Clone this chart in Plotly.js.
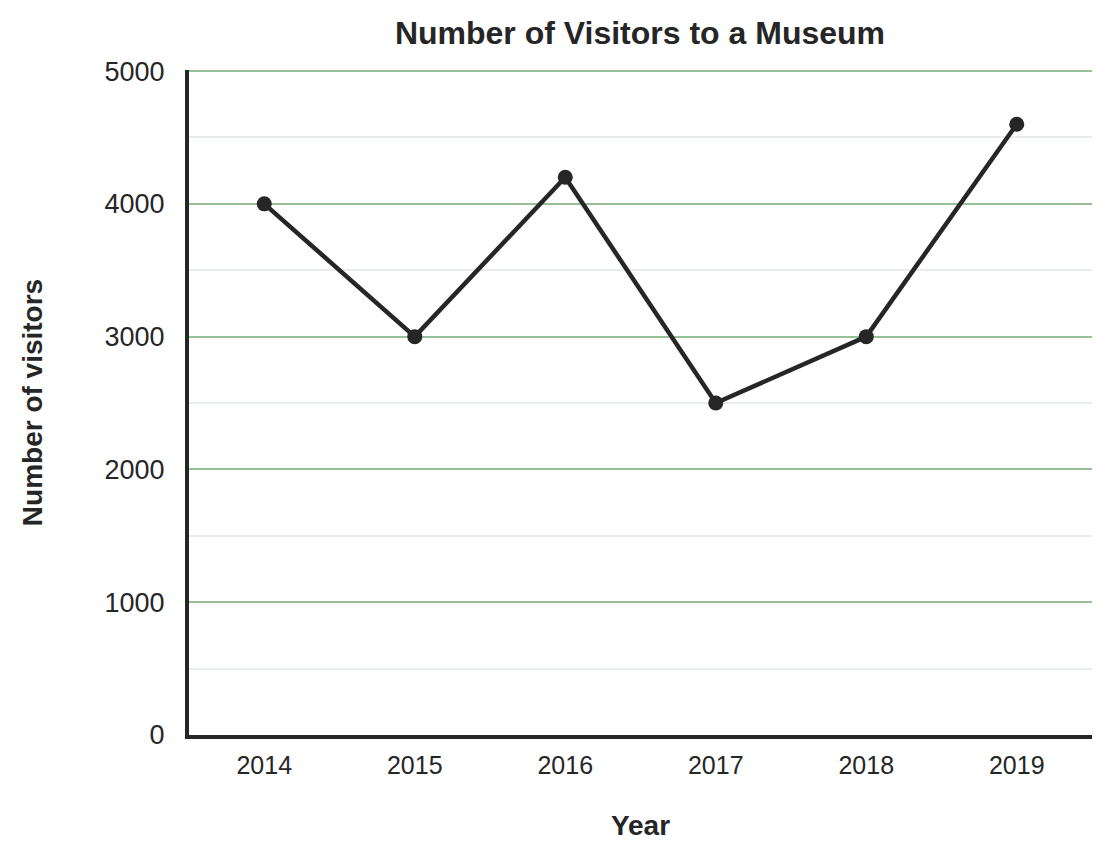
<!DOCTYPE html>
<html>
<head>
<meta charset="utf-8">
<script src="https://cdn.plot.ly/plotly-3.0.1.min.js"></script>
<style>
  html, body { margin: 0; padding: 0; background: #fff; }
  #chart { width: 1112px; height: 855px; }
</style>
</head>
<body>
<div id="chart"></div>
<script>
// chart data
var years = ['2014', '2015', '2016', '2017', '2018', '2019'];
var visitors = [4000, 3000, 4200, 2500, 3000, 4600];
var yTicks = [0, 1000, 2000, 3000, 4000, 5000];

var ink = '#262626';
var font = 'Liberation Sans, Arial, sans-serif';

var trace = {
	type: 'scatter',
	mode: 'lines+markers',
	x: years,
	y: visitors,
	line: {color: ink, width: 4.5},
	marker: {color: ink, size: 15},
	hoverinfo: 'x+y'
};

var layout = {
	width: 1112,
	height: 855,
	margin: {l: 189, r: 20, t: 70, b: 120, pad: 0},
	paper_bgcolor: '#fff',
	plot_bgcolor: '#fff',
	showlegend: false,
	font: {family: font, color: ink},
	title: {
		text: '<b>Number of Visitors to a Museum</b>',
		font: {family: font, size: 32, color: ink},
		x: 0.5755, xanchor: 'center',
		y: 0.962, yanchor: 'middle'
	},
	xaxis: {
		type: 'category',
		range: [-0.5, 5.5],
		showgrid: false,
		zeroline: false,
		showline: true,
		linecolor: ink,
		linewidth: 4,
		ticks: '',
		tickfont: {family: font, size: 25, color: ink},
		ticklabelstandoff: 5,
		title: {
			text: '<b>Year</b>',
			font: {family: font, size: 28, color: ink},
			standoff: 38
		}
	},
	yaxis: {
		range: [0, 5008],
		tickvals: yTicks,
		ticktext: yTicks.map(String),
		showgrid: true,
		gridcolor: '#98c098',
		gridwidth: 2,
		zeroline: false,
		showline: true,
		linecolor: ink,
		linewidth: 4,
		ticks: '',
		tickfont: {family: font, size: 27, color: ink},
		ticklabelstandoff: 15,
		minor: {
			dtick: 500,
			tick0: 0,
			showgrid: true,
			gridcolor: '#e9ede9',
			gridwidth: 2,
			ticks: ''
		},
		title: {
			text: '<b>Number of visitors</b>',
			font: {family: font, size: 28, color: ink},
			standoff: 55
		}
	}
};

Plotly.newPlot('chart', [trace], layout, {displayModeBar: false, staticPlot: true});
</script>
</body>
</html>
